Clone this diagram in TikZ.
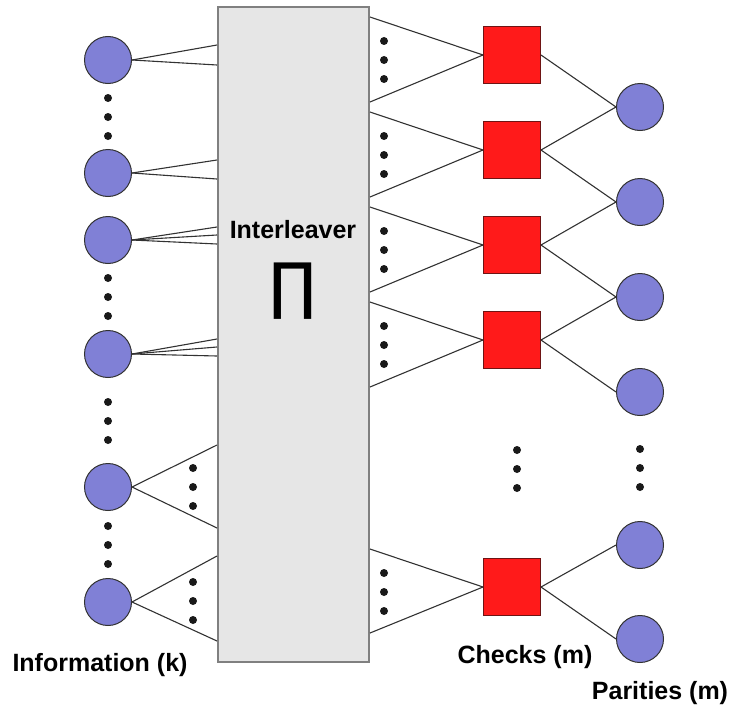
\documentclass[tikz,border=0pt]{standalone}
\usepackage{fontspec}
\setmainfont{Liberation Sans}
\newfontfamily\symfont{DejaVu Sans}
\usepackage{tikz}
\usetikzlibrary{positioning,calc}
\definecolor{bitblue}{RGB}{128,128,214}
\definecolor{chkred}{RGB}{255,26,26}
\definecolor{chkedge}{RGB}{110,20,20}
\definecolor{ilfill}{RGB}{230,230,230}
\definecolor{iledge}{RGB}{128,128,128}
\definecolor{wirec}{RGB}{50,50,50}
\tikzset{
  wire/.style={draw=wirec,line width=1.1pt},
  bitnode/.style={circle,draw=wirec,line width=1pt,fill=bitblue,
                  minimum size=47pt,inner sep=0pt},
  chknode/.style={rectangle,draw=chkedge,line width=1pt,fill=chkred,
                  minimum size=57pt,inner sep=0pt},
  ilbox/.style={rectangle,draw=iledge,line width=2pt,fill=ilfill,
                minimum width=151pt,minimum height=655pt,inner sep=0pt},
  dotmark/.style={circle,fill=black!90,minimum size=8pt,inner sep=0pt},
  lbl/.style={font=\bfseries\fontsize{25}{30}\selectfont,inner sep=0pt}
}
\begin{document}
\begin{tikzpicture}[x=1pt,y=-1pt]
  \useasboundingbox (0,0) rectangle (730,709);

  % interleaver
  \node[ilbox] (intl) at (293.5,334.5) {};
  \node[lbl] (iltxt) at (293,230) {Interleaver};
  \node[inner sep=0pt,font=\symfont\fontsize{62}{62}\selectfont] (pi) at (293,291) {∏};

  % information bits
  \foreach \n/\y in {1/60,2/173,3/240,4/354,5/487,6/602}
    \node[bitnode] (i\n) at (108,\y) {};
  % checks
  \foreach \n/\y in {1/55,2/150,3/245,4/340,5/587}
    \node[chknode] (c\n) at (512,\y) {};
  % parities
  \foreach \n/\y in {1/107,2/202,3/297,4/392,5/545,6/639}
    \node[bitnode] (p\n) at (640,\y) {};

  % bits to interleaver
  \foreach \n/\ys in {1/{45,65},2/{160,179},3/{227,235,244},
                      4/{339,347,356},5/{445,528},6/{556,641}}
    \foreach \y in \ys
      \draw[wire] (i\n.east) -- (intl.west |- 0,\y);

  % interleaver to checks
  \foreach \n/\ya/\yb in {1/17/102,2/112/197,3/207/292,4/302/387,5/549/633}{
    \draw[wire] (intl.east |- 0,\ya) -- (c\n.west);
    \draw[wire] (intl.east |- 0,\yb) -- (c\n.west);
  }

  % checks to parities
  \draw[wire] (c1.east) -- (p1.west);
  \draw[wire] (c2.east) -- (p1.west);
  \draw[wire] (c2.east) -- (p2.west);
  \draw[wire] (c3.east) -- (p2.west);
  \draw[wire] (c3.east) -- (p3.west);
  \draw[wire] (c4.east) -- (p3.west);
  \draw[wire] (c4.east) -- (p4.west);
  \draw[wire] (c5.east) -- (p5.west);
  \draw[wire] (c5.east) -- (p6.west);

  % ellipsis dots
  \foreach \x/\y in {108/98,108/278,108/402,108/526,
                     193/468,193/582,
                     384/41,384/136,384/231,384/326,384/573,
                     517/450,640/449}
    \foreach \k in {0,1,2}
      \node[dotmark] at (\x,\y+19*\k) {};

  % labels
  \node[lbl] (infolbl) at (100,665) {Information (k)};
  \node[lbl] (chklbl) at (525,657) {Checks (m)};
  \node[lbl] (parlbl) at (660,693) {Parities (m)};
\end{tikzpicture}
\end{document}
